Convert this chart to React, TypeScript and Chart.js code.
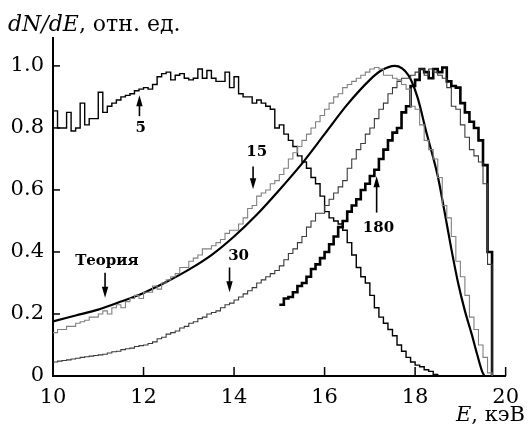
import React, { useEffect, useRef } from 'react';
import { Chart, registerables } from 'chart.js';

Chart.register(...registerables);

const FONT = "'DejaVu Serif'";

// Histogram bins (keV)
const BIN_WIDTH = 0.1;
const X_TICKS = [10, 12, 14, 16, 18, 20];
const Y_TICKS = [0, 0.2, 0.4, 0.6, 0.8, 1.0];

const START_5 = 10.0;
const SERIES_5 = [
  0.855, 0.80, 0.80, 0.85, 0.79, 0.80, 0.88, 0.81, 0.83, 0.83,
  0.915, 0.85, 0.87, 0.88, 0.89, 0.90, 0.905, 0.91, 0.92, 0.925,
  0.93, 0.925, 0.94, 0.965, 0.975, 0.98, 0.955, 0.97, 0.975, 0.96,
  0.955, 0.96, 0.99, 0.96, 0.985, 0.96, 0.95, 0.95, 0.98, 0.93,
  0.965, 0.91, 0.90, 0.90, 0.88, 0.89, 0.88, 0.87, 0.86, 0.80,
  0.81, 0.78, 0.76, 0.74, 0.71, 0.69, 0.67, 0.64, 0.62, 0.58,
  0.53, 0.51, 0.50, 0.49, 0.47, 0.43, 0.39, 0.35, 0.32, 0.30,
  0.26, 0.22, 0.19, 0.17, 0.15, 0.13, 0.10, 0.08, 0.06, 0.045,
  0.035, 0.03, 0.02, 0.015, 0.005,
];

const START_15 = 10.0;
const SERIES_15 = [
  0.14, 0.15, 0.15, 0.16, 0.16, 0.17, 0.175, 0.18, 0.19, 0.19,
  0.20, 0.21, 0.20, 0.22, 0.23, 0.22, 0.24, 0.25, 0.26, 0.25,
  0.27, 0.27, 0.29, 0.28, 0.30, 0.31, 0.32, 0.33, 0.35, 0.35,
  0.37, 0.38, 0.39, 0.41, 0.41, 0.42, 0.43, 0.44, 0.46, 0.47,
  0.47, 0.49, 0.51, 0.54, 0.55, 0.58, 0.59, 0.60, 0.62, 0.63,
  0.65, 0.67, 0.70, 0.72, 0.74, 0.76, 0.78, 0.80, 0.82, 0.84,
  0.86, 0.88, 0.90, 0.91, 0.93, 0.94, 0.95, 0.96, 0.97, 0.98,
  0.99, 0.995, 0.99, 0.97, 0.97, 0.96, 0.955, 0.94, 0.925, 0.87,
  0.86, 0.81, 0.76, 0.73, 0.70, 0.64, 0.55, 0.51, 0.45, 0.37,
  0.32, 0.26, 0.19, 0.15, 0.10, 0.06, 0.01,
];

const START_30 = 10.0;
const SERIES_30 = [
  0.045, 0.048, 0.05, 0.052, 0.055, 0.057, 0.06, 0.062, 0.064, 0.066,
  0.068, 0.07, 0.074, 0.078, 0.08, 0.085, 0.088, 0.09, 0.095, 0.098,
  0.10, 0.105, 0.11, 0.12, 0.125, 0.135, 0.14, 0.145, 0.155, 0.16,
  0.17, 0.175, 0.185, 0.19, 0.20, 0.205, 0.21, 0.22, 0.23, 0.235,
  0.245, 0.255, 0.265, 0.275, 0.285, 0.30, 0.31, 0.32, 0.33, 0.34,
  0.355, 0.375, 0.395, 0.41, 0.43, 0.45, 0.48, 0.50, 0.525, 0.525,
  0.55, 0.57, 0.59, 0.61, 0.63, 0.67, 0.70, 0.73, 0.75, 0.78,
  0.80, 0.83, 0.86, 0.88, 0.91, 0.93, 0.95, 0.96, 0.96, 0.97,
  0.98, 0.99, 0.97, 0.99, 0.98, 0.97, 0.96, 0.93, 0.87, 0.86,
  0.81, 0.77, 0.73, 0.71, 0.69, 0.62, 0.36,
];

const START_180 = 15.0;
const SERIES_180 = [
  0.23, 0.25, 0.255, 0.27, 0.29, 0.30, 0.32, 0.345, 0.36, 0.38,
  0.40, 0.425, 0.45, 0.48, 0.50, 0.53, 0.55, 0.57, 0.60, 0.62,
  0.645, 0.665, 0.70, 0.73, 0.76, 0.785, 0.80, 0.85, 0.87, 0.935,
  0.955, 0.99, 0.98, 0.96, 0.99, 0.98, 0.995, 0.95, 0.935, 0.93,
  0.88, 0.85, 0.82, 0.80, 0.76, 0.68, 0.40,
];

const THEORY_E = [
  10.0, 10.5, 11.0, 11.5, 12.0, 12.5, 13.0, 13.5, 14.0, 14.5,
  15.0, 15.5, 16.0, 16.5, 17.0, 17.25, 17.55, 17.85, 18.05, 18.25,
  18.5, 18.65, 18.8, 18.95, 19.1, 19.25, 19.37, 19.48, 19.53,
];
const THEORY_V = [
  0.176, 0.195, 0.214, 0.24, 0.268, 0.303, 0.343, 0.39, 0.45, 0.52,
  0.60, 0.685, 0.78, 0.875, 0.955, 0.985, 1.0, 0.97, 0.90, 0.785,
  0.645, 0.53, 0.41, 0.30, 0.21, 0.135, 0.07, 0.015, 0.0,
];

const ANNOTATIONS = [
  { text: '5', labelX: 11.94, labelY: 0.80, arrowX: 11.91, from: 0.838, to: 0.905 },
  { text: '15', labelX: 14.5, labelY: 0.723, arrowX: 14.42, from: 0.676, to: 0.602 },
  { text: 'Теория', labelX: 11.19, labelY: 0.37, arrowX: 11.15, from: 0.333, to: 0.252 },
  { text: '30', labelX: 14.1, labelY: 0.388, arrowX: 13.9, from: 0.35, to: 0.27 },
  { text: '180', labelX: 17.19, labelY: 0.477, arrowX: 17.15, from: 0.527, to: 0.644 },
];

const r1 = (v: number) => Math.round(v * 1000) / 1000;

function histPoints(start: number, values: number[]) {
  const pts = values.map((v, i) => ({ x: r1(start + i * BIN_WIDTH), y: v }));
  pts.push({ x: r1(start + values.length * BIN_WIDTH), y: 0 });
  return pts;
}

const overlay = {
  id: 'overlay',
  afterDatasetsDraw(chart: any) {
    const { ctx, scales } = chart;
    const x = scales.x;
    const y = scales.y;
    ctx.save();
    ctx.strokeStyle = '#000';
    ctx.fillStyle = '#000';
    ctx.lineWidth = 1.5;
    y.ticks.forEach((t: any) => {
      if (t.value <= 0) return;
      const py = y.getPixelForValue(t.value);
      ctx.beginPath();
      ctx.moveTo(x.left, py);
      ctx.lineTo(x.left + 7, py);
      ctx.stroke();
    });
    x.ticks.forEach((t: any) => {
      if (t.value <= X_TICKS[0]) return;
      const px = x.getPixelForValue(t.value);
      ctx.beginPath();
      ctx.moveTo(px, y.bottom);
      ctx.lineTo(px, y.bottom - 9);
      ctx.stroke();
    });
    ctx.font = `bold 15px ${FONT}`;
    ctx.textAlign = 'center';
    ctx.textBaseline = 'middle';
    ANNOTATIONS.forEach((a) => {
      ctx.fillText(a.text, x.getPixelForValue(a.labelX), y.getPixelForValue(a.labelY));
      const ax = x.getPixelForValue(a.arrowX);
      const y0 = y.getPixelForValue(a.from);
      const y1 = y.getPixelForValue(a.to);
      const dir = Math.sign(y1 - y0);
      ctx.lineWidth = 1.6;
      ctx.beginPath();
      ctx.moveTo(ax, y0);
      ctx.lineTo(ax, y1 - dir * 8);
      ctx.stroke();
      ctx.beginPath();
      ctx.moveTo(ax, y1);
      ctx.lineTo(ax - 3.2, y1 - dir * 11);
      ctx.lineTo(ax + 3.2, y1 - dir * 11);
      ctx.closePath();
      ctx.fill();
    });
    ctx.textAlign = 'left';
    ctx.textBaseline = 'alphabetic';
    ctx.font = `italic 22px ${FONT}`;
    let tx = 8;
    const ty = 31;
    ctx.fillText('dN/dE', tx, ty);
    tx += ctx.measureText('dN/dE').width;
    ctx.font = `22px ${FONT}`;
    ctx.fillText(', отн. ед.', tx, ty);

    ctx.font = `21px ${FONT}`;
    const rest = ', кэВ';
    const wRest = ctx.measureText(rest).width;
    const rx = 525;
    const by = 421;
    ctx.fillText(rest, rx - wRest, by);
    ctx.font = `italic 21px ${FONT}`;
    const wE = ctx.measureText('E').width;
    ctx.fillText('E', rx - wRest - wE, by);
    ctx.restore();
  },
};

export default function App() {
  const ref = useRef<HTMLCanvasElement | null>(null);
  useEffect(() => {
    let chart: any = null;
    let cancelled = false;
    const build = () => {
      if (cancelled || !ref.current) return;
      const tickFont = { family: FONT, size: 21 };
      chart = new Chart(ref.current, {
        type: 'line',
        data: {
          datasets: [
            { label: '15', data: histPoints(START_15, SERIES_15), borderColor: '#808080', borderWidth: 1.1, stepped: true, pointRadius: 0 },
            { label: '30', data: histPoints(START_30, SERIES_30), borderColor: '#3a3a3a', borderWidth: 1.1, stepped: true, pointRadius: 0 },
            { label: '5', data: histPoints(START_5, SERIES_5), borderColor: '#000', borderWidth: 1.4, stepped: true, pointRadius: 0 },
            {
              label: 'Теория',
              data: THEORY_E.map((e, i) => ({ x: e, y: THEORY_V[i] })),
              borderColor: '#000',
              borderWidth: 2.2,
              cubicInterpolationMode: 'monotone',
              pointRadius: 0,
            },
            { label: '180', data: histPoints(START_180, SERIES_180), borderColor: '#000', borderWidth: 2.6, stepped: true, pointRadius: 0 },
          ],
        } as any,
        options: {
          animation: false,
          responsive: false,
          font: { family: FONT },
          layout: { padding: { left: 0, right: 16, top: 38, bottom: 0 } },
          plugins: { legend: { display: false }, tooltip: { enabled: false } },
          scales: {
            x: {
              type: 'linear',
              min: X_TICKS[0],
              max: X_TICKS[X_TICKS.length - 1],
              grid: { display: false, drawTicks: false },
              border: { display: true, color: '#000', width: 2 },
              ticks: {
                autoSkip: false,
                maxRotation: 0,
                color: '#000',
                font: tickFont,
                padding: 9,
                callback: (v: any) => String(v),
              },
              afterBuildTicks: (s: any) => {
                s.ticks = X_TICKS.map((v) => ({ value: v }));
              },
              afterFit: (s: any) => {
                s.height = 55;
              },
            },
            y: {
              type: 'linear',
              min: 0,
              max: 1.09,
              grid: { display: false, drawTicks: false },
              border: { display: true, color: '#000', width: 2 },
              ticks: {
                color: '#000',
                font: tickFont,
                padding: 9,
                callback: (v: any) => (v === 0 ? '0' : Number(v).toFixed(1)),
              },
              afterBuildTicks: (s: any) => {
                s.ticks = Y_TICKS.map((v) => ({ value: v }));
              },
              afterFit: (s: any) => {
                s.width = 53;
              },
            },
          },
        } as any,
        plugins: [overlay],
      });
    };
    const fontsToLoad = [`21px ${FONT}`, `bold 15px ${FONT}`, `italic 22px ${FONT}`];
    Promise.all(fontsToLoad.map((f) => (document as any).fonts.load(f, 'dN/dE отн ед кэВ 0.1')))
      .catch(() => null)
      .then(() => build());
    return () => {
      cancelled = true;
      if (chart) chart.destroy();
    };
  }, []);
  return (
    <div style={{ position: 'fixed', left: 0, top: 0, width: 528, height: 431, background: '#fff' }}>
      <canvas ref={ref} width={528} height={431} style={{ display: 'block' }} />
    </div>
  );
}
